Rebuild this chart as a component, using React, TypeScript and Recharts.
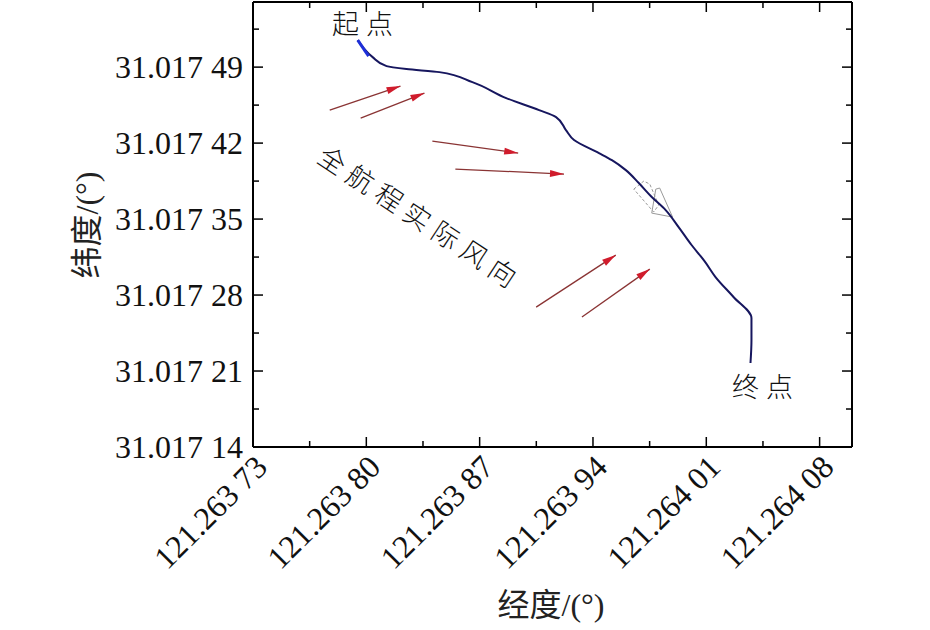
import React from 'react';
import { ComposedChart, Line, XAxis, YAxis } from 'recharts';

// axis ticks (longitude / latitude in degrees)
const lonTicks = [
  121.26373, 121.263765, 121.2638, 121.263835, 121.26387, 121.263905,
  121.26394, 121.263975, 121.26401, 121.264045, 121.26408,
];
const lonLabels = [121.26373, 121.2638, 121.26387, 121.26394, 121.26401, 121.26408];
const latTicks = [
  31.01714, 31.017175, 31.01721, 31.017245, 31.01728, 31.017315,
  31.01735, 31.017385, 31.01742, 31.017455, 31.01749, 31.017525,
];
const latLabels = [31.01714, 31.01721, 31.01728, 31.01735, 31.01742, 31.01749];

// ship track
const trackLon = [
  121.2637947, 121.2637983, 121.2638039, 121.2638125, 121.2638248, 121.2638451,
  121.2638655, 121.2638864, 121.2639067, 121.2639172, 121.2639233, 121.2639283,
  121.2639437, 121.2639517, 121.2639603, 121.2639683, 121.2639763, 121.2639849,
  121.2639929, 121.2640009, 121.2640089, 121.2640157, 121.2640268, 121.2640379,
  121.2640379, 121.2640373,
];
const trackLat = [
  31.0175149, 31.0175075, 31.0174992, 31.0174909, 31.0174882, 31.0174854,
  31.0174762, 31.0174615, 31.0174504, 31.017444, 31.017432, 31.0174228,
  31.0174108, 31.0174043, 31.0173951, 31.0173832, 31.0173703, 31.0173583,
  31.0173426, 31.0173261, 31.0173113, 31.0172966, 31.0172782, 31.0172588,
  31.0172386, 31.0172174,
];
const startLon = [121.2637947, 121.2638014];
const startLat = [31.0175149, 31.0175001];

// wind arrows: [fromLon, toLon], [fromLat, toLat]
const windLon = [
  [121.2637774, 121.2638211],
  [121.2637965, 121.2638359],
  [121.2638408, 121.2638938],
  [121.263855, 121.2639221],
  [121.2639049, 121.2639541],
  [121.2639332, 121.2639751],
];
const windLat = [
  [31.0174504, 31.0174725],
  [31.017443, 31.0174661],
  [31.0174218, 31.0174108],
  [31.0173961, 31.0173915],
  [31.0172689, 31.0173168],
  [31.0172597, 31.0173039],
];

// ship outline sketch
const hullALon = [121.2639652, 121.2639714, 121.2639751, 121.2639806, 121.2639775, 121.2639652];
const hullALat = [31.0173776, 31.017385, 31.0173822, 31.0173629, 31.0173565, 31.0173776];
const hullBLon = [121.2639788, 121.2639812, 121.2639892, 121.2639763, 121.2639788];
const hullBLat = [31.0173776, 31.0173786, 31.0173518, 31.0173555, 31.0173776];

const zip = (lons: number[], lats: number[]) => lons.map((lon, i) => ({ lon, lat: lats[i] }));

const track = zip(trackLon, trackLat);
const startSeg = zip(startLon, startLat);
const winds = windLon.map((l, i) => zip(l, windLat[i]));
const hullA = zip(hullALon, hullALat);
const hullB = zip(hullBLon, hullBLat);

const numFont = 'Liberation Serif, DejaVu Serif, serif';
const mixFont = 'Liberation Serif, Noto Sans CJK SC, serif';
const cjkFont = 'Noto Sans CJK SC, sans-serif';
const isMajor = (v: number, list: number[]) => list.some(m => Math.abs(m - v) < 1e-9);
const fmt = (v: number) => {
  const s = v.toFixed(5);
  return s.slice(0, -2) + ' ' + s.slice(-2);
};

const BottomTick = (props: any) => {
  const { x, y, payload } = props;
  const major = isMajor(payload.value, lonLabels);
  const ax = x + 16;
  const ay = y + 22;
  return (
    <g>
      <line x1={x} y1={y} x2={x} y2={y - (major ? 10 : 6)} stroke="#000" strokeWidth={1.5} />
      {major && (
        <text x={ax} y={ay} transform={`rotate(-45 ${ax} ${ay})`} textAnchor="end"
          style={{ fontFamily: numFont, fontSize: 32 }} fill="#111">{fmt(payload.value)}</text>
      )}
    </g>
  );
};

const TopTick = (props: any) => {
  const { x, y, payload } = props;
  const major = isMajor(payload.value, lonLabels);
  return <line x1={x} y1={y} x2={x} y2={y + (major ? 10 : 6)} stroke="#000" strokeWidth={1.5} />;
};

const LeftTick = (props: any) => {
  const { x, y, payload } = props;
  const major = isMajor(payload.value, latLabels);
  return (
    <g>
      <line x1={x} y1={y} x2={x + (major ? 10 : 6)} y2={y} stroke="#000" strokeWidth={1.5} />
      {major && (
        <text x={x - 10} y={y} dy="0.35em" textAnchor="end"
          style={{ fontFamily: numFont, fontSize: 32 }} fill="#111">{fmt(payload.value)}</text>
      )}
    </g>
  );
};

const RightTick = (props: any) => {
  const { x, y, payload } = props;
  const major = isMajor(payload.value, latLabels);
  return <line x1={x} y1={y} x2={x - (major ? 10 : 6)} y2={y} stroke="#000" strokeWidth={1.5} />;
};

const arrowHead = (props: any) => {
  const { cx, cy, index, points } = props;
  if (index !== 1 || !points || !points[0]) return <g key={`a-${index}`} />;
  const p0 = points[0];
  const ang = Math.atan2(cy - p0.y, cx - p0.x);
  const c = Math.cos(ang), s = Math.sin(ang);
  const L = 14, W = 3.5;
  const bx = cx - L * c, by = cy - L * s;
  const pts = `${cx},${cy} ${bx - W * s},${by + W * c} ${bx + W * s},${by - W * c}`;
  return <polygon key={`a-${index}`} points={pts} fill="#d01c2c" />;
};

export default function App() {
  return (
    <div style={{ position: 'absolute', left: 0, top: 0, width: 930, height: 630, background: '#fff' }}>
      <ComposedChart width={930} height={630} margin={{ top: 1, right: 77, bottom: 0, left: 0 }}>
        <XAxis xAxisId="b" dataKey="lon" type="number" orientation="bottom" height={183}
          domain={[121.26373, 121.2641]} allowDataOverflow ticks={lonTicks} interval={0}
          tickSize={0} tickMargin={0} tick={<BottomTick />} axisLine={{ stroke: '#000', strokeWidth: 2 }} />
        <XAxis xAxisId="t" dataKey="lon" type="number" orientation="top" height={1}
          domain={[121.26373, 121.2641]} allowDataOverflow ticks={lonTicks} interval={0}
          tickSize={0} tickMargin={0} tick={<TopTick />} axisLine={{ stroke: '#000', strokeWidth: 2 }} />
        <YAxis yAxisId="l" type="number" orientation="left" width={253}
          domain={[31.01714, 31.01755]} allowDataOverflow ticks={latTicks} interval={0}
          tickSize={0} tickMargin={0} tick={<LeftTick />} axisLine={{ stroke: '#000', strokeWidth: 2 }} />
        <YAxis yAxisId="r" type="number" orientation="right" width={1}
          domain={[31.01714, 31.01755]} allowDataOverflow ticks={latTicks} interval={0}
          tickSize={0} tickMargin={0} tick={<RightTick />} axisLine={{ stroke: '#000', strokeWidth: 2 }} />

        {/* invisible copy of the track so the mirrored frame axes get drawn */}
        <Line xAxisId="t" yAxisId="r" data={track} dataKey="lat" stroke="none" dot={false}
          activeDot={false} isAnimationActive={false} />

        {winds.map((w, i) => (
          <Line key={`w${i}`} xAxisId="b" yAxisId="l" data={w} dataKey="lat" type="linear"
            stroke="#8a3434" strokeWidth={1.3} dot={arrowHead} activeDot={false} isAnimationActive={false} />
        ))}
        <Line xAxisId="b" yAxisId="l" data={hullA} dataKey="lat" type="linear" stroke="#9a9a9a"
          strokeWidth={1} strokeDasharray="3 2" dot={false} activeDot={false} isAnimationActive={false} />
        <Line xAxisId="b" yAxisId="l" data={hullB} dataKey="lat" type="linear" stroke="#9a9a9a"
          strokeWidth={1} dot={false} activeDot={false} isAnimationActive={false} />
        <Line xAxisId="b" yAxisId="l" data={track} dataKey="lat" type="monotoneY" stroke="#16165e"
          strokeWidth={2} dot={false} activeDot={false} isAnimationActive={false} />
        <Line xAxisId="b" yAxisId="l" data={startSeg} dataKey="lat" type="linear" stroke="#1e2fd8"
          strokeWidth={3} dot={false} activeDot={false} isAnimationActive={false} />
      </ComposedChart>

      <svg width={930} height={630} style={{ position: 'absolute', left: 0, top: 0, pointerEvents: 'none' }}>
        <text x={332} y={25} dy="0.35em" style={{ fontFamily: cjkFont, fontWeight: 300, fontSize: 27 }}
          letterSpacing={7} fill="#111">起点</text>
        <text x={732} y={388} dy="0.35em" style={{ fontFamily: cjkFont, fontWeight: 300, fontSize: 27 }}
          letterSpacing={7} fill="#111">终点</text>
        <text x={420} y={219} dy="0.35em" textAnchor="middle" transform="rotate(33.4 420 219)"
          style={{ fontFamily: cjkFont, fontWeight: 300, fontSize: 27 }} letterSpacing={7} fill="#111">全航程实际风向</text>
        <text x={551} y={605} dy="0.35em" textAnchor="middle"
          style={{ fontFamily: mixFont, fontSize: 32 }} fill="#222">经度/(°)</text>
        <text x={87} y={225} dy="0.35em" textAnchor="middle" transform="rotate(-90 87 225)"
          style={{ fontFamily: mixFont, fontSize: 32 }} fill="#222">纬度/(°)</text>
      </svg>
    </div>
  );
}
